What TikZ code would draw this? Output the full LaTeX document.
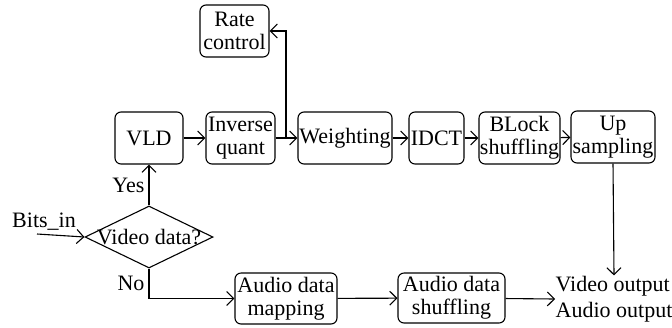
\documentclass[tikz,border=0pt]{standalone}
\usepackage{fontspec}
\setmainfont{Liberation Serif}
\usepackage{tikz}
\usetikzlibrary{arrows.meta,shapes.geometric}
\newcommand{\arr}{-{Straight Barb[length=3.5pt,width=7pt]}}

\begin{document}
\begin{tikzpicture}[x=.5pt,y=-.5pt,line width=.55pt,
  every node/.style={font=\fontsize{11}{11.5}\selectfont},
  block/.style={draw,rounded corners=3pt,align=center,inner sep=0pt,minimum height=26pt},
  decision/.style={draw,diamond,inner sep=0pt,minimum width=64pt,minimum height=31pt}]
\useasboundingbox (0,0) rectangle (672,327);
%video path
\node[block,minimum width=34.5pt] (rate) at (234.5,31) {Rate\\control};
\node[block,minimum width=34pt] (vld) at (149,138) {VLD};
\node[block,minimum width=34.5pt] (iq) at (240.5,138) {Inverse\\quant};
\node[block,minimum width=47pt] (weight) at (345,138) {Weighting};
\node[block,minimum width=27.5pt] (idct) at (436.5,138) {IDCT};
\node[block,minimum width=40.5pt] (blk) at (519.5,138) {BLock\\shuffling};
\node[block,minimum width=42pt] (up) at (613,137) {Up\\sampling};
%decision
\node[decision] (dec) at (149,237) {\makebox[0pt]{Video data?}};
\node (bits) at (44,222) {Bits\_in};
\coordinate (in) at (37,234);
%audio path
\node[block,minimum width=51pt,minimum height=25.5pt] (amap) at (286,298.5) {Audio data\\mapping};
\node[block,minimum width=53.5pt,minimum height=25pt] (ashuf) at (451.5,298) {Audio data\\shuffling};
\node[align=left,inner sep=0pt,font=\fontsize{11}{13}\selectfont] (out) at (614,299) {Video output\\Audio output};
\coordinate (br) at (286,138);
\coordinate (no) at (149,298.5);
\draw[\arr] (in) -- (dec.west);
\draw[\arr] (dec.north) -- node[left,inner sep=2pt] {Yes} (vld.south);
\draw (dec.south) -- node[left,inner sep=2pt] {No} (no);
\draw[\arr] (no) -- (amap.west);
\draw[\arr] (vld) -- (iq);
\draw[\arr] (iq) -- (weight);
\draw[\arr] (weight) -- (idct);
\draw[\arr] (idct) -- (blk);
\draw[\arr] (blk) -- (up);
\draw[\arr] (br) |- (rate.east);
\draw[\arr] (up.south) -- (out.north);
\draw[\arr] (amap) -- (ashuf);
\draw[\arr] (ashuf) -- (out.west);
\end{tikzpicture}
\end{document}
